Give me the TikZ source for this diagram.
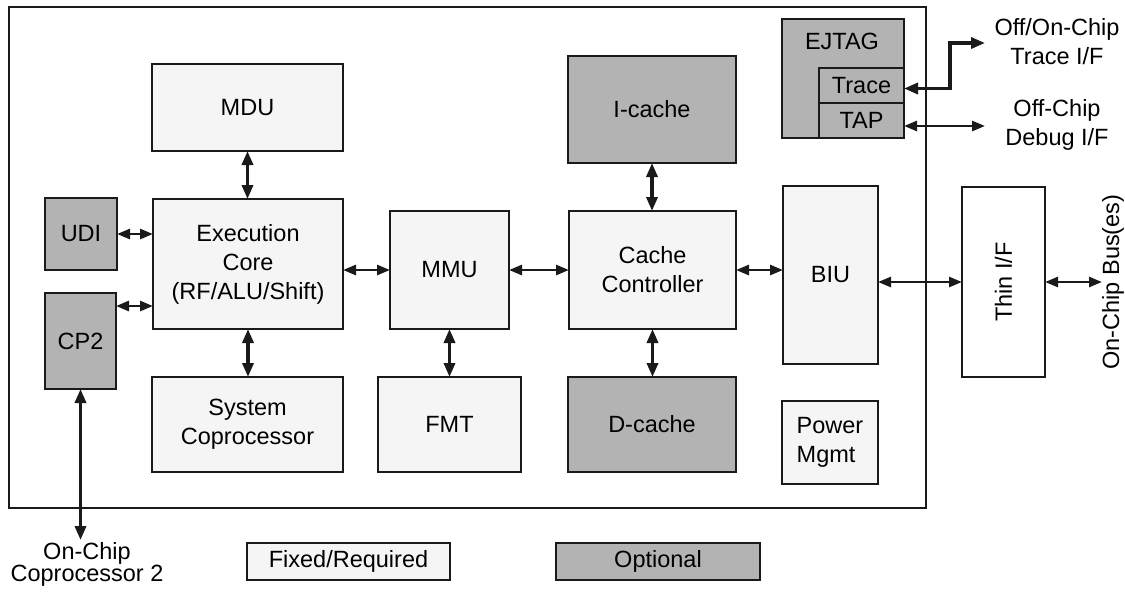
\documentclass[tikz,border=0pt]{standalone}
\usepackage{fontspec}
\setmainfont{Liberation Sans}
\usetikzlibrary{arrows.meta}
\definecolor{fixedfill}{HTML}{F5F5F5}
\definecolor{optfill}{HTML}{B3B3B3}
\definecolor{linec}{HTML}{1A1A1A}
\begin{document}
\begin{tikzpicture}[x=1pt,y=-1pt,
  txt/.style={font=\fontsize{23.5}{29}\selectfont, align=center, text=black},
  blk/.style={txt, draw=linec, line width=2pt, inner sep=0pt, outer sep=0pt},
  fixedblk/.style={blk, fill=fixedfill},
  optblk/.style={blk, fill=optfill},
  lbl/.style={txt, inner sep=0pt},
  harr/.style={draw=linec, line width=2.7pt, {Triangle[length=13pt,width=10pt]}-{Triangle[length=13pt,width=10pt]}},
  varr/.style={draw=linec, line width=3.4pt, {Triangle[length=14pt,width=11pt]}-{Triangle[length=14pt,width=11pt]}}
]
\useasboundingbox (0,0) rectangle (1125,592);

% chip outline
\node[draw=linec, line width=2pt, inner sep=0pt, minimum width=917pt, minimum height=501pt] (chip) at (467.5,257.5) {};

% blocks
\node[fixedblk, minimum width=191pt, minimum height=87pt]  (mdu)    at (247.5,107.5) {MDU};
\node[fixedblk, minimum width=190pt, minimum height=130pt] (exec)   at (248,264) {Execution\\Core\\(RF/ALU/Shift)};
\node[optblk,   minimum width=72pt,  minimum height=72pt]  (udi)    at (81,234) {UDI};
\node[optblk,   minimum width=71pt,  minimum height=96pt]  (cp2)    at (80.5,341) {CP2};
\node[fixedblk, minimum width=191pt, minimum height=95pt]  (syscop) at (247.5,424.5) {System\\Coprocessor};
\node[fixedblk, minimum width=119pt, minimum height=118pt] (mmu)    at (449.5,270) {MMU};
\node[fixedblk, minimum width=143pt, minimum height=95pt]  (fmt)    at (449.5,424.5) {FMT};
\node[optblk,   minimum width=168pt, minimum height=107pt] (icache) at (652,109.5) {I-cache};
\node[fixedblk, minimum width=167pt, minimum height=118pt] (cachectl) at (652.5,270) {Cache\\Controller};
\node[optblk,   minimum width=168pt, minimum height=95pt]  (dcache) at (652,424.5) {D-cache};
\node[fixedblk, minimum width=95pt,  minimum height=178pt] (biu)    at (830.5,275) {BIU};
\node[fixedblk, minimum width=96pt,  minimum height=83pt, align=left] (power) at (830,442.5) {Power\\Mgmt};
\node[blk, fill=white, minimum width=83pt, minimum height=190pt] (thin) at (1003.5,282) {};
\node[lbl, rotate=90] (thintxt) at (thin.center) {Thin I/F};

% EJTAG
\node[optblk, minimum width=122pt, minimum height=119pt] (ejtag) at (843,78.5) {};
\node[lbl] (ejtagtxt) at (842,41) {EJTAG};
\node[optblk, minimum width=85pt, minimum height=35pt] (trace) at (861.5,85.5) {Trace};
\node[optblk, minimum width=85pt, minimum height=35pt] (tap)   at (861.5,120.5) {TAP};

% external labels
\node[lbl] (tracelbl) at (1057,42) {Off/On-Chip\\Trace I/F};
\node[lbl] (debuglbl) at (1057,125) {Off-Chip\\Debug I/F};
\node[lbl, rotate=90] (buslbl) at (1113,282) {On-Chip Bus(es)};
\node[lbl, font=\fontsize{23.5}{22}\selectfont] (cp2lbl) at (87,564) {On-Chip\\Coprocessor 2};

% legend
\node[fixedblk, minimum width=203pt, minimum height=37pt] (legfixed) at (348.5,561.5) {Fixed/Required};
\node[optblk,   minimum width=204pt, minimum height=37pt] (legopt)   at (658,561.5) {Optional};

% free ends
\coordinate (traceend) at (985,43);
\coordinate (debugend) at (985,126);
\coordinate (busend) at (1102,282);
\coordinate (cp2end) at (80.5,540);
\coordinate (cp2e) at ([yshift=-13pt]cp2.north east);

% connectors
\draw[varr] (mdu.south) -- (mdu.south |- exec.north);
\draw[harr] (udi.east) -- (udi.east -| exec.west);
\draw[harr] (cp2e) -- (cp2e -| exec.west);
\draw[harr] (exec.east |- mmu.west) -- (mmu.west);
\draw[varr] (exec.south) -- (exec.south |- syscop.north);
\draw[harr] (mmu.east) -- (cachectl.west);
\draw[varr] (mmu.south) -- (mmu.south |- fmt.north);
\draw[varr] (icache.south) -- (icache.south |- cachectl.north);
\draw[varr] (cachectl.south) -- (cachectl.south |- dcache.north);
\draw[harr] (cachectl.east) -- (cachectl.east -| biu.west);
\draw[harr] (biu.east |- thin.west) -- (thin.west);
\draw[harr] (thin.east) -- (busend);
\draw[varr] (cp2.south) -- (cp2end);
\draw[varr] ([yshift=-3pt]trace.east) -- ++(46,0) |- (traceend);
\draw[harr] ([yshift=-5.5pt]tap.east) -- (debugend);
\end{tikzpicture}
\end{document}
